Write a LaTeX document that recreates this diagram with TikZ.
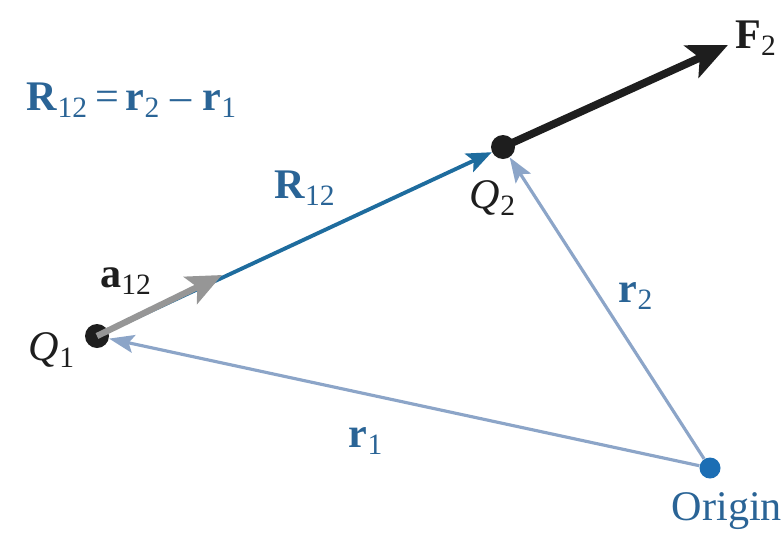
\documentclass[tikz,border=0pt]{standalone}
\usepackage{fontspec}
\setmainfont{Liberation Serif}
\usepackage{tikz}
\usetikzlibrary{arrows.meta, positioning}
\definecolor{vecblue}{RGB}{30, 108, 158}
\definecolor{labelblue}{RGB}{42, 100, 150}
\definecolor{paleblue}{RGB}{140, 165, 200}
\definecolor{unitgray}{RGB}{150, 150, 150}
\definecolor{forceblack}{RGB}{30, 30, 30}
\definecolor{originblue}{RGB}{28, 110, 180}
\tikzset{
  >=Stealth,
  charge/.style={circle, fill=forceblack, inner sep=0pt, minimum size=4.8mm},
  pointdot/.style={circle, fill=originblue, inner sep=0pt, minimum size=4.2mm},
  vecarrow/.style={-{Stealth[length=5mm, width=4mm, inset=1mm]}, line width=2.2pt, vecblue},
  posarrow/.style={-{Stealth[length=5mm, width=3.6mm, inset=1mm]}, line width=1.8pt, paleblue},
  unitarrow/.style={-{Stealth[length=7mm, width=6mm, inset=1.5mm]}, line width=3.6pt, unitgray},
  forcearrow/.style={-{Stealth[length=8mm, width=7mm, inset=1.8mm]}, line width=4.4pt, forceblack},
  veclabel/.style={font=\fontsize{24}{28}\selectfont, text=labelblue},
  darklabel/.style={font=\fontsize{24}{28}\selectfont, text=forceblack}
}
\begin{document}
\begin{tikzpicture}[x=0.02cm, y=-0.02cm]
    \useasboundingbox (0,0) rectangle (781,535);
    \node (q1) [charge] at (97,336) {};
    \node (q2) [charge] at (503,147) {};
    \node (o) [pointdot] at (710,468) {};
    \coordinate (f) at (728,45);
    \coordinate (a) at (222,275);
    % position vectors
    \draw[posarrow] (o) -- (q1);
    \draw[posarrow] (o) -- (q2);
    % separation and unit vector
    \draw[vecarrow] (q1) -- (q2);
    \draw[unitarrow] (q1.center) -- (a);
    \draw[forcearrow] (q2.center) -- (f);
    \node (q1lbl) [darklabel] at (52,350) {\textit{Q}\textsubscript{1}};
    \node (q2lbl) [darklabel] at (493,198) {\textit{Q}\textsubscript{2}};
    \node (flbl) [darklabel] at (756,38) {\textbf{F}\textsubscript{2}};
    \node (albl) [darklabel] at (126,281) {\textbf{a}\textsubscript{12}};
    \node (rlbl) [veclabel] at (305,188) {\textbf{R}\textsubscript{12}};
    \node (r1lbl) [veclabel] at (366,441) {\textbf{r}\textsubscript{1}};
    \node (r2lbl) [veclabel] at (636,296) {\textbf{r}\textsubscript{2}};
    \node (olbl) [veclabel] at (727,511) {Origin};
    \node (eq) [veclabel] at (132,100) {\textbf{R}\textsubscript{12}\,=\,\textbf{r}\textsubscript{2} -- \textbf{r}\textsubscript{1}};
\end{tikzpicture}
\end{document}
